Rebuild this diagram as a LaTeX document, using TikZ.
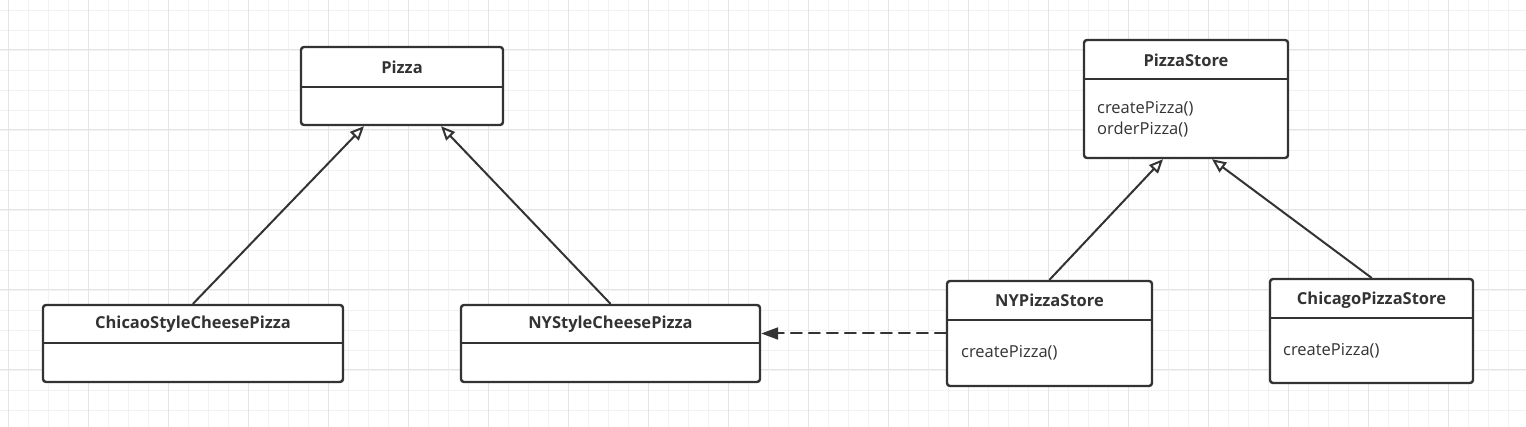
\documentclass[tikz,border=0pt]{standalone}
\usepackage{fontspec}
\setmainfont{Open Sans}
\usetikzlibrary{arrows.meta,positioning}
\definecolor{umlInk}{HTML}{333333}
\definecolor{umlGrid}{HTML}{F2F2F2}
\definecolor{umlGridMajor}{HTML}{E4E4E4}
\begin{document}
\begin{tikzpicture}[x=1pt,y=-1pt,>=Latex,line cap=round,line join=round]
\path[fill=white] (0,0) rectangle (1526,427);
\useasboundingbox (0,0) rectangle (1526,427);
\tikzset{gridline/.style={draw=umlGrid,line width=0.9pt},gridmajor/.style={draw=umlGridMajor,line width=1pt},classbox/.style={draw=umlInk,fill=white,line width=2.4pt,rounded corners=3pt,inner sep=0pt},divider/.style={draw=umlInk,line width=2.4pt,line cap=butt},classname/.style={text=umlInk,font=\bfseries\fontsize{16.5}{20}\selectfont},method/.style={anchor=west,align=left,text=umlInk,inner sep=0pt,font=\fontsize{16.5}{21}\selectfont},inherit/.style={draw=umlInk,line width=2pt,-{Triangle[open,fill=white,length=14pt,width=12pt]}},depends/.style={draw=umlInk,line width=2pt,dash pattern=on 11pt off 7pt,-{Triangle[length=17pt,width=12pt]}}}
\foreach \gx in {8,28,...,1526} \draw[gridline] (\gx,0) -- (\gx,427);
\foreach \gy in {10,30,...,427} \draw[gridline] (0,\gy) -- (1526,\gy);
\foreach \gx in {8,88,...,1526} \draw[gridmajor] (\gx,0) -- (\gx,427);
\foreach \gy in {50,130,...,427} \draw[gridmajor] (0,\gy) -- (1526,\gy);
\node[classbox,minimum width=202pt,minimum height=78pt] (pizza) at (402,86) {};
\node[classname] (pizzaName) at (402,67) {Pizza};
\draw[divider] (pizza.west |- 0,87) -- (pizza.east |- 0,87);
\node[classbox,minimum width=204pt,minimum height=118pt] (pizzaStore) at (1186,99) {};
\node[classname] (pizzaStoreName) at (1186,60) {PizzaStore};
\draw[divider] (pizzaStore.west |- 0,79) -- (pizzaStore.east |- 0,79);
\node[method] (pizzaStoreOps) at (1097,119.5) {createPizza()\\orderPizza()};
\node[classbox,minimum width=300pt,minimum height=77pt] (chicaoPizza) at (193,343.5) {};
\node[classname] (chicaoPizzaName) at (193,324) {ChicaoStyleCheesePizza};
\draw[divider] (chicaoPizza.west |- 0,343) -- (chicaoPizza.east |- 0,343);
\node[classbox,minimum width=299pt,minimum height=77pt] (nyPizza) at (610.5,343.5) {};
\node[classname] (nyPizzaName) at (610.5,324) {NYStyleCheesePizza};
\draw[divider] (nyPizza.west |- 0,343) -- (nyPizza.east |- 0,343);
\node[classbox,minimum width=205pt,minimum height=105pt] (nyStore) at (1049.5,333.5) {};
\node[classname] (nyStoreName) at (1049.5,300) {NYPizzaStore};
\draw[divider] (nyStore.west |- 0,320) -- (nyStore.east |- 0,320);
\node[method] (nyStoreOps) at (961,353) {createPizza()};
\node[classbox,minimum width=203pt,minimum height=104pt] (chicagoStore) at (1371.5,331) {};
\node[classname] (chicagoStoreName) at (1371.5,300) {ChicagoPizzaStore};
\draw[divider] (chicagoStore.west |- 0,318) -- (chicagoStore.east |- 0,318);
\node[method] (chicagoStoreOps) at (1283,351) {createPizza()};
\draw[inherit] (chicaoPizza.north) -- ([xshift=-38pt]pizza.south);
\draw[inherit] (nyPizza.north) -- ([xshift=39pt]pizza.south);
\draw[inherit] (nyStore.north) -- ([xshift=-23pt]pizzaStore.south);
\draw[inherit] (chicagoStore.north) -- ([xshift=26pt]pizzaStore.south);
\draw[depends] (nyStore.west) -- (nyPizza.east |- nyStore.west);
\end{tikzpicture}
\end{document}
